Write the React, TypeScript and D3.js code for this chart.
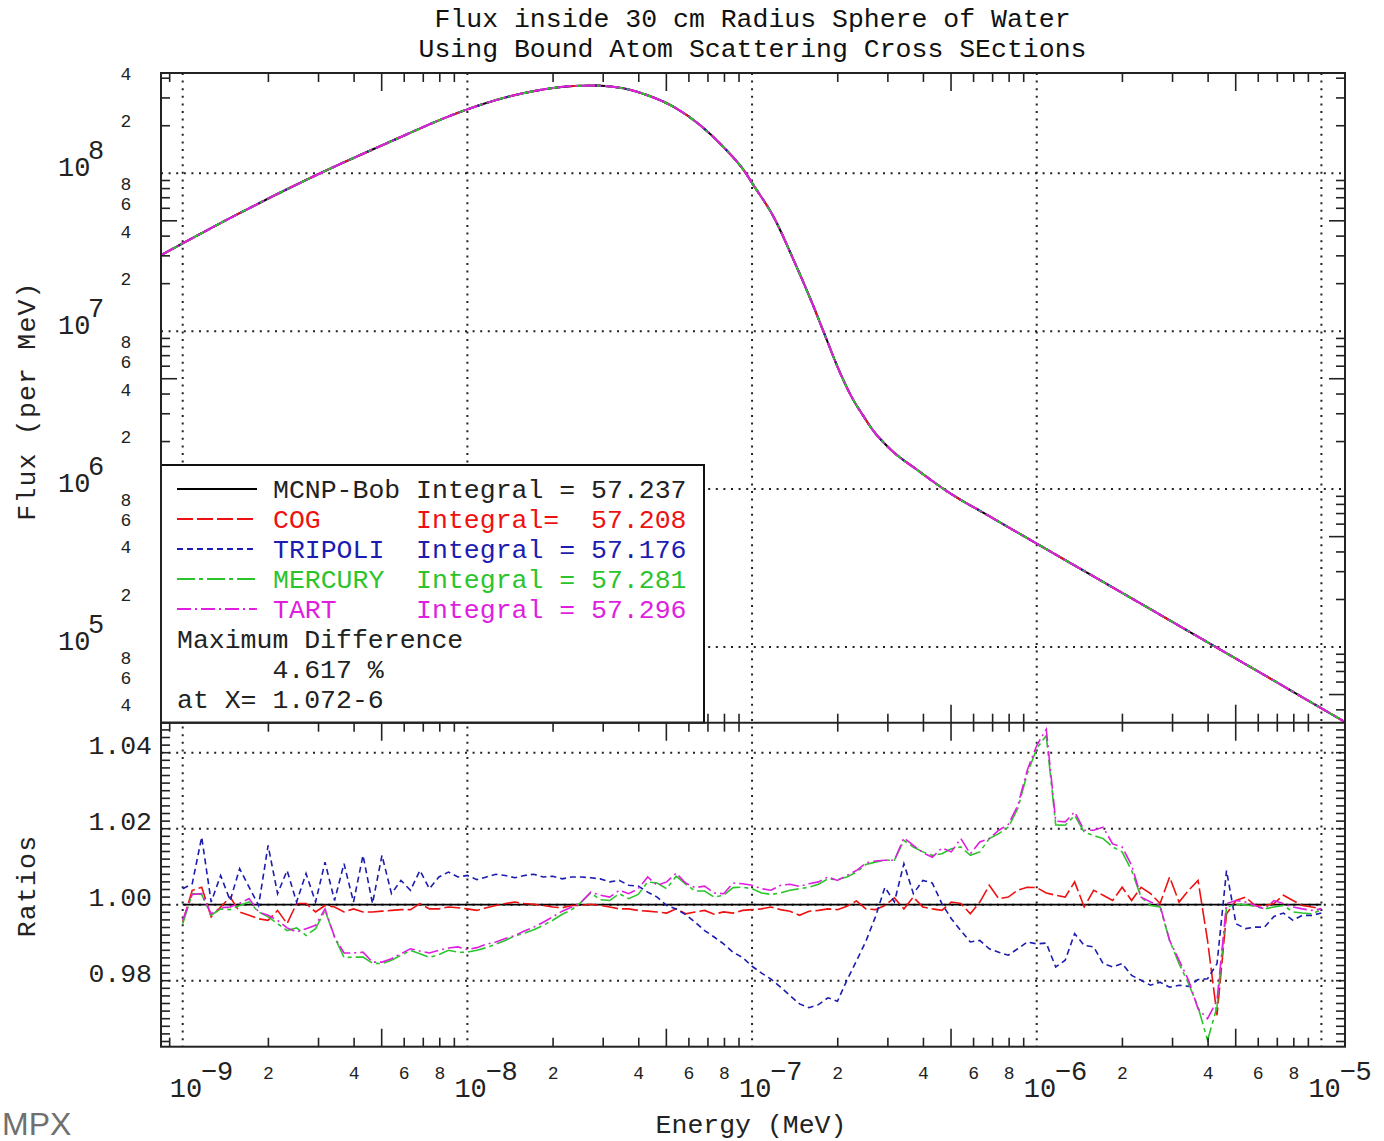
import React from 'react';
import * as d3 from 'd3';

// ---------- data ----------
const titleLines = ['Flux inside 30 cm Radius Sphere of Water', 'Using Bound Atom Scattering Cross SEctions'];
const xAxisTitle = 'Energy (MeV)';
const yAxisTitleTop = 'Flux (per MeV)';
const yAxisTitleBottom = 'Ratios';

const seriesNames = ['MCNP-Bob', 'COG', 'TRIPOLI', 'MERCURY', 'TART'];
const legendRows = [
  'MCNP-Bob Integral = 57.237',
  'COG      Integral=  57.208',
  'TRIPOLI  Integral = 57.176',
  'MERCURY  Integral = 57.281',
  'TART     Integral = 57.296',
];
const legendNotes = ['Maximum Difference', '      4.617 %', 'at X= 1.072-6'];

// flux (per MeV) vs energy (MeV), upper panel
const fluxEnergies = [8.39e-10, 1.59e-9, 3.04e-9, 5.81e-9, 8.02e-9, 1.0e-8, 1.37e-8, 1.8e-8, 2.36e-8, 2.84e-8,
  3.53e-8, 4.27e-8, 5.29e-8, 6.56e-8, 7.92e-8, 9.44e-8, 1.01e-7, 1.19e-7, 1.4e-7, 1.64e-7, 1.78e-7, 2.04e-7,
  2.27e-7, 2.45e-7, 2.64e-7, 3.08e-7, 3.81e-7, 4.86e-7, 6.79e-7, 1.0e-6, 1.64e-6, 2.59e-6, 4.1e-6, 6.47e-6, 1.21e-5];
const fluxValues = [3.03e7, 5.61e7, 1.0e8, 1.69e8, 2.18e8, 2.54e8, 3.03e8, 3.37e8, 3.57e8, 3.59e8,
  3.45e8, 3.13e8, 2.64e8, 2.02e8, 1.47e8, 1.02e8, 8.44e7, 5.31e7, 2.82e7, 1.45e7, 1.0e7, 5.43e6,
  3.66e6, 2.94e6, 2.4e6, 1.77e6, 1.32e6, 9.64e5, 6.76e5, 4.52e5, 2.7e5, 1.68e5, 1.04e5, 6.46e4, 3.35e4];

// ratio energy grid: mantissas within each decade
const gridMantissas = [1.0, 1.08, 1.166, 1.259, 1.359, 1.468, 1.585, 1.711, 1.848, 1.995, 2.154, 2.326, 2.512, 2.712,
  2.929, 3.162, 3.415, 3.687, 3.981, 4.299, 4.642, 5.012, 5.412, 5.843, 6.31, 6.813, 7.356, 7.943, 8.577, 9.261];
const gridDecades = [1e-9, 1e-8, 1e-7, 1e-6];
const gridLast = 1e-5;
const ratioEnergies = [...gridDecades.flatMap((d) => gridMantissas.map((m) => m * d)), gridLast];

const mcnpRatioEnds = [1e-9, 1e-5];

const cogRatio = [0.9954, 1.0038, 1.0046, 0.9968, 0.9994, 1.002, 0.9981, 0.9972, 0.9963, 0.9959,
  0.9985, 0.995, 1.0003, 1.0003, 0.9981, 0.9998, 0.9994, 0.9981, 0.9989, 0.9981,
  0.9981, 0.9983, 0.9985, 0.9987, 0.9987, 1.0003, 0.9989, 0.9989, 0.9994, 0.9992,
  0.9989, 0.9985, 0.9992, 0.9998, 1.0003, 1.0007, 1.0003, 1.0001, 0.9998, 0.9994,
  0.9992, 0.9998, 0.9998, 1.0001, 0.9998, 0.9994, 0.9989, 0.9989, 0.9985, 0.9983,
  0.9981, 0.9978, 0.9989, 0.9976, 0.9981, 0.9985, 0.9975, 0.9981, 0.9978, 0.9985,
  0.9987, 0.9989, 0.9994, 0.9987, 0.9983, 0.9972, 0.9983, 0.9985, 0.9989, 0.9987,
  0.9996, 1.001, 0.9989, 0.9987, 0.9998, 1.0018, 0.9989, 1.002, 0.9994, 0.9989,
  0.9985, 1.0007, 1.0003, 0.9976, 1.0007, 1.0051, 1.0016, 1.002, 1.0038, 1.0046,
  1.0045, 1.0031, 1.0025, 1.002, 1.006, 0.9994, 1.0038, 1.0025, 1.0011, 1.0046,
  1.0011, 1.0046, 1.0029, 1.0003, 1.0073, 1.0007, 1.0038, 1.0064, 0.9906, 0.9709,
  0.9976, 1.0011, 1.002, 0.9998, 0.9998, 1.0003, 1.0025, 1.0011, 0.9998, 0.9994, 0.9989];

const tripoliRatio = [1.0042, 1.0055, 1.0178, 1.0007, 1.0077, 1.0011, 1.0095, 1.0046, 0.9998, 1.0156,
  1.0029, 1.009, 1.0007, 1.0082, 1.0007, 1.0112, 1.0011, 1.0108, 1.0007, 1.013,
  1.0003, 1.013, 1.0029, 1.0064, 1.0038, 1.009, 1.0042, 1.0073, 1.0086, 1.0073,
  1.0077, 1.0066, 1.0073, 1.008, 1.0077, 1.0071, 1.0077, 1.008, 1.0073, 1.0075,
  1.0068, 1.0073, 1.0073, 1.0071, 1.0068, 1.006, 1.0064, 1.0051, 1.0049, 1.0033,
  1.002, 0.9998, 0.9989, 0.9974, 0.9954, 0.9932, 0.9915, 0.9897, 0.9875, 0.9861,
  0.9838, 0.982, 0.9804, 0.9783, 0.9761, 0.9739, 0.9729, 0.9737, 0.9755, 0.9746,
  0.9801, 0.9852, 0.9904, 0.9968, 1.0046, 1.0007, 1.0108, 1.0029, 1.0064, 1.0057,
  1.0003, 0.9963, 0.9932, 0.9902, 0.9906, 0.9884, 0.9875, 0.9867, 0.9884, 0.9902,
  0.9897, 0.9899, 0.9836, 0.9854, 0.9924, 0.9893, 0.9889, 0.9845, 0.9836, 0.9845,
  0.9814, 0.9801, 0.9788, 0.9796, 0.9783, 0.9788, 0.9785, 0.9803, 0.9805, 0.9845,
  1.009, 0.995, 0.9937, 0.9941, 0.9941, 0.9969, 0.9978, 0.9959, 0.9972, 0.9972, 0.9978];

const mercuryRatio = [0.995, 1.0029, 1.0027, 0.9972, 0.9989, 0.9987, 0.9998, 1.0007, 0.9981, 0.9968,
  0.995, 0.9932, 0.9939, 0.9919, 0.9937, 0.9985, 0.9915, 0.9861, 0.9862, 0.9862,
  0.9846, 0.9845, 0.9854, 0.9867, 0.988, 0.9871, 0.9861, 0.9869, 0.988, 0.9875,
  0.9875, 0.988, 0.9887, 0.9896, 0.9906, 0.9918, 0.9925, 0.9934, 0.9946, 0.9959,
  0.9975, 0.9987, 1.0007, 1.0031, 1.0013, 1.0011, 1.0029, 1.0016, 1.0027, 1.006,
  1.0057, 1.0042, 1.0075, 1.0054, 1.0036, 1.0036, 1.002, 1.0025, 1.0045, 1.0046,
  1.0042, 1.0031, 1.0027, 1.0031, 1.0038, 1.0042, 1.0046, 1.0054, 1.0068, 1.0066,
  1.0073, 1.0086, 1.0106, 1.0112, 1.0117, 1.0117, 1.0169, 1.0152, 1.0139, 1.013,
  1.0134, 1.0147, 1.0152, 1.013, 1.0139, 1.0174, 1.0187, 1.0204, 1.0253, 1.0345,
  1.0411, 1.0445, 1.021, 1.0209, 1.0235, 1.0191, 1.0182, 1.0174, 1.0152, 1.0139,
  1.009, 1.002, 0.9998, 0.9994, 0.9906, 0.9845, 0.9792, 0.9731, 0.9643, 0.9731,
  0.9994, 1.0001, 1.0, 0.9996, 0.9989, 0.9994, 0.9998, 0.9981, 0.9978, 0.9976, 0.9987];

const tartRatio = [0.9959, 1.0027, 1.0029, 0.9976, 0.9992, 0.9994, 1.0004, 1.0016, 0.9981, 0.9972,
  0.9959, 0.9939, 0.9928, 0.9937, 0.9946, 0.9989, 0.9915, 0.9873, 0.9873, 0.9875,
  0.9849, 0.9849, 0.9858, 0.9871, 0.9884, 0.9878, 0.9873, 0.988, 0.9886, 0.9889,
  0.9882, 0.9887, 0.9896, 0.9902, 0.9911, 0.9919, 0.9931, 0.9941, 0.9954, 0.9968,
  0.9983, 0.9994, 1.0007, 1.0033, 1.0025, 1.002, 1.0038, 1.0029, 1.0042, 1.0073,
  1.0051, 1.006, 1.0083, 1.0057, 1.0045, 1.0049, 1.0031, 1.0029, 1.0057, 1.0055,
  1.0051, 1.0042, 1.0038, 1.0051, 1.0054, 1.0048, 1.0055, 1.006, 1.0073, 1.0064,
  1.0077, 1.009, 1.011, 1.0115, 1.0117, 1.0117, 1.0176, 1.0156, 1.0137, 1.0125,
  1.0149, 1.0139, 1.0174, 1.0134, 1.0165, 1.0174, 1.0196, 1.0211, 1.0261, 1.0354,
  1.0419, 1.0462, 1.022, 1.0218, 1.0244, 1.0196, 1.0196, 1.0204, 1.016, 1.0152,
  1.0104, 1.002, 1.0007, 0.9998, 0.9906, 0.9854, 0.9801, 0.9726, 0.97, 0.9748,
  1.0003, 1.0011, 1.0007, 0.9998, 0.9989, 1.0011, 1.0003, 0.9994, 0.9989, 0.9985, 0.9989];

// axis domains
const energyDomain = [8.39e-10, 1.2103e-5];
const fluxDomain = [3.317e4, 4.315e8];
const ratioDomain = [0.96263, 1.0479];

// ---------- styles ----------
const MONO = "'Liberation Mono', 'Courier New', monospace";
const colors = ['#000000', '#ee1111', '#1c1cb0', '#2cc42c', '#e01ee0'];
const dashes = ['none', '16,4', '6,4', '18,4,4,4', '14,4,2,4'];

const mantissa = (v: number) => Math.round(v / Math.pow(10, Math.floor(Math.log10(v) + 1e-6)));
const expo = (v: number) => Math.round(Math.log10(v));

export default function App() {
  const W = 1384, H = 1141;
  const left = 161, right = 1345, top = 73, mid = 722.7, bottom = 1046.7;

  const x = d3.scaleLog().domain(energyDomain).range([left, right]);
  const yU = d3.scaleLog().domain(fluxDomain).range([mid, top]);
  const yL = d3.scaleLinear().domain(ratioDomain).range([bottom, mid]);

  const xTicks = x.ticks();
  const yTicks = yU.ticks();
  const xDecades = xTicks.filter((v) => mantissa(v) === 1);
  const yDecades = yTicks.filter((v) => mantissa(v) === 1);
  const ratioTicks = yL.ticks(4);
  const ratioMinor = d3.range(964, 1048, 2).map((v) => v / 1000);

  const fluxPts: [number, number][] = fluxEnergies.map((e, i) => [e, fluxValues[i]]);
  const fluxLine = d3.line<[number, number]>().x((d) => x(d[0])).y((d) => yU(d[1])).curve(d3.curveMonotoneX);
  const ratioLine = d3.line<[number, number]>().x((d) => x(d[0])).y((d) => yL(d[1]));

  const ratioSeries = [cogRatio, tripoliRatio, mercuryRatio, tartRatio];
  const minorLen = 9, majorLen = 18;

  const dotted = { stroke: '#222', strokeWidth: 2, strokeDasharray: '2,5.6', fill: 'none' };

  return (
    <svg width={W} height={H} style={{ position: 'absolute', left: 0, top: 0, display: 'block', background: '#fff' }}
      fontFamily={MONO}>
      <defs>
        <clipPath id="clipU"><rect x={left} y={top} width={right - left} height={mid - top} /></clipPath>
        <clipPath id="clipL"><rect x={left} y={mid} width={right - left} height={bottom - mid} /></clipPath>
      </defs>
      <rect x={0} y={0} width={W} height={H} fill="#fff" />

      {/* title */}
      {titleLines.map((t, i) => (
        <text key={t} x={752.5} y={27 + i * 30} textAnchor="middle" fontSize={26.5} fill="#111">{t}</text>
      ))}

      {/* grid */}
      {yDecades.map((v) => (
        <line key={'gu' + v} x1={left} x2={right} y1={yU(v)} y2={yU(v)} {...dotted} />
      ))}
      {xDecades.map((v) => (
        <line key={'gx' + v} x1={x(v)} x2={x(v)} y1={top} y2={bottom} {...dotted} />
      ))}
      {ratioTicks.map((v) => (
        <line key={'gl' + v} x1={left} x2={right} y1={yL(v)} y2={yL(v)} {...dotted} />
      ))}

      {/* flux curves */}
      <g clipPath="url(#clipU)">
        {seriesNames.map((n, i) => (
          <path key={'f' + n} d={fluxLine(fluxPts) || ''} fill="none" stroke={colors[i]} strokeWidth={2}
            strokeDasharray={dashes[i]} />
        ))}
      </g>

      {/* ratio curves */}
      <g clipPath="url(#clipL)">
        <line x1={x(mcnpRatioEnds[0])} x2={x(mcnpRatioEnds[1])} y1={yL(1)} y2={yL(1)} stroke="#000" strokeWidth={1.8} />
        {ratioSeries.map((r, i) => (
          <path key={'r' + i} d={ratioLine(ratioEnergies.map((e, k) => [e, r[k]] as [number, number])) || ''}
            fill="none" stroke={colors[i + 1]} strokeWidth={1.6} strokeDasharray={dashes[i + 1]} />
        ))}
      </g>

      {/* x ticks */}
      {xTicks.filter((v) => mantissa(v) !== 1).map((v) => {
        const len = mantissa(v) === 5 ? majorLen : minorLen;
        const px = x(v);
        return (
          <g key={'xt' + v} stroke="#222" strokeWidth={1.6}>
            <line x1={px} x2={px} y1={top} y2={top + len} />
            <line x1={px} x2={px} y1={mid} y2={mid - len} />
            <line x1={px} x2={px} y1={mid} y2={mid + len} />
            <line x1={px} x2={px} y1={bottom} y2={bottom - len} />
          </g>
        );
      })}
      {/* y ticks upper */}
      {yTicks.filter((v) => mantissa(v) !== 1).map((v) => {
        const len = mantissa(v) === 5 ? 16 : minorLen;
        const py = yU(v);
        return (
          <g key={'yt' + v} stroke="#222" strokeWidth={1.6}>
            <line x1={left} x2={left + len} y1={py} y2={py} />
            <line x1={right} x2={right - len} y1={py} y2={py} />
          </g>
        );
      })}
      {/* y ticks lower */}
      {ratioMinor.map((v) => (
        <g key={'rt' + v} stroke="#222" strokeWidth={1.6}>
          <line x1={left} x2={left + minorLen} y1={yL(v)} y2={yL(v)} />
          <line x1={right} x2={right - minorLen} y1={yL(v)} y2={yL(v)} />
        </g>
      ))}

      {/* legend */}
      <rect x={left} y={465} width={704 - left} height={mid - 465} fill="#fff" stroke="#111" strokeWidth={2} />
      {seriesNames.map((n, i) => (
        <g key={'lg' + n}>
          <line x1={177} x2={257} y1={489 + i * 30} y2={489 + i * 30} stroke={colors[i]} strokeWidth={1.8}
            strokeDasharray={dashes[i]} />
          <text x={273} y={498 + i * 30} fontSize={26.5} fill={i === 0 ? '#222' : colors[i]} xmlSpace="preserve"
            style={{ whiteSpace: 'pre' }}>{legendRows[i]}</text>
        </g>
      ))}
      {legendNotes.map((t, i) => (
        <text key={'ln' + i} x={177} y={648 + i * 30} fontSize={26.5} fill="#222" xmlSpace="preserve"
          style={{ whiteSpace: 'pre' }}>{t}</text>
      ))}

      {/* frames */}
      <rect x={left} y={top} width={right - left} height={bottom - top} fill="none" stroke="#222" strokeWidth={2} />
      <line x1={left} x2={right} y1={mid} y2={mid} stroke="#222" strokeWidth={2} />

      {/* y labels upper */}
      {yDecades.map((v) => (
        <g key={'yl' + v} fill="#222">
          <text x={58} y={yU(v) + 3} fontSize={27}>10</text>
          <text x={88} y={yU(v) - 14} fontSize={27}>{expo(v)}</text>
        </g>
      ))}
      {yTicks.filter((v) => [2, 4, 6, 8].includes(mantissa(v))).map((v) => (
        <text key={'ym' + v} x={126} y={yU(v) + 1.5} fontSize={18} textAnchor="middle" fill="#222">{mantissa(v)}</text>
      ))}

      {/* y labels lower */}
      {ratioTicks.map((v) => (
        <text key={'rl' + v} x={152} y={yL(v) + 1.5} fontSize={26.5} textAnchor="end" fill="#222">{d3.format('.2f')(v)}</text>
      ))}

      {/* x labels */}
      {xDecades.map((v) => (
        <g key={'xl' + v} fill="#222">
          <text x={x(v) - 13} y={1097} fontSize={27}>10</text>
          <text x={x(v) + 18} y={1080} fontSize={27}>{'\u2212' + String(Math.abs(expo(v)))}</text>
        </g>
      ))}
      {xTicks.filter((v) => [2, 4, 6, 8].includes(mantissa(v))).map((v) => (
        <text key={'xm' + v} x={x(v)} y={1079} fontSize={18} textAnchor="middle" fill="#222">{mantissa(v)}</text>
      ))}

      {/* axis titles */}
      <text x={751} y={1133} fontSize={26.5} textAnchor="middle" fill="#222">{xAxisTitle}</text>
      <text transform="translate(35,401) rotate(-90)" fontSize={26.5} textAnchor="middle" fill="#222"
        letterSpacing={1.2}>{yAxisTitleTop}</text>
      <text transform="translate(35,886) rotate(-90)" fontSize={26.5} textAnchor="middle" fill="#222"
        letterSpacing={1.2}>{yAxisTitleBottom}</text>

      {/* corner mark */}
      <text x={2} y={1135} fontSize={32} fontFamily="'Liberation Sans', Arial, sans-serif" fill="#707070">MPX</text>
    </svg>
  );
}
